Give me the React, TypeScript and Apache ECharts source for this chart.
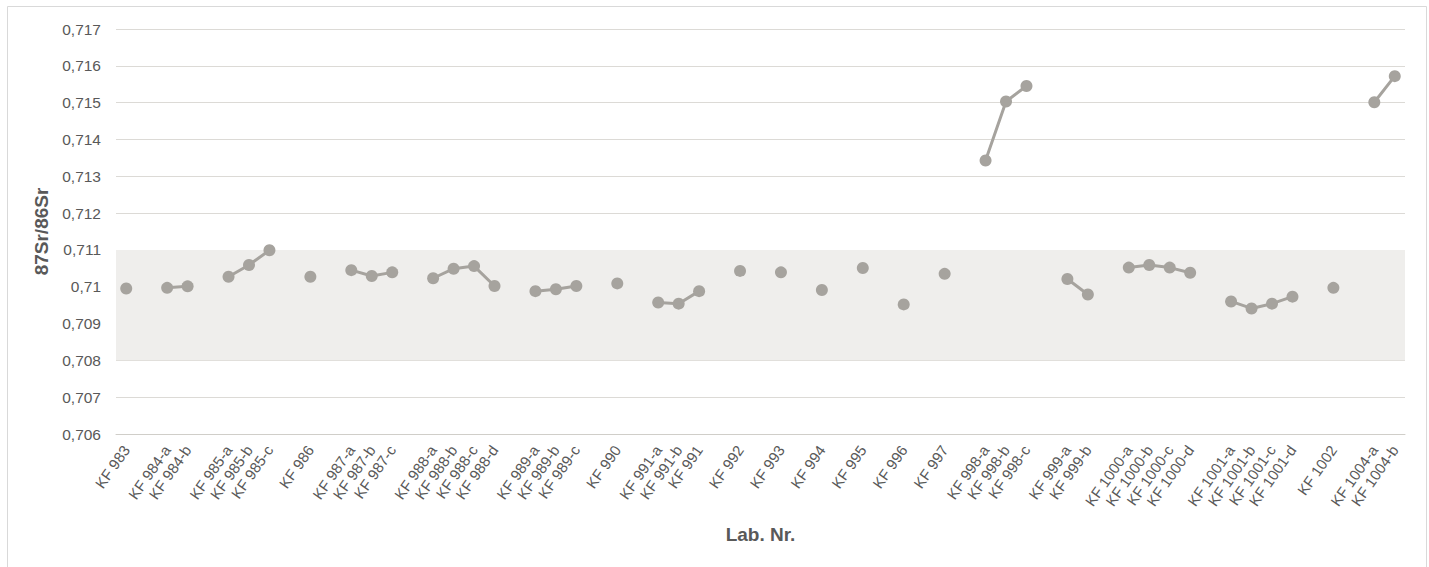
import React, { useEffect, useRef } from "react";
import * as echarts from "echarts";

// Categories ("" = empty spacer category between sample groups)
const categories: string[] = [
  "KF 983", "",
  "KF 984-a", "KF 984-b", "",
  "KF 985-a", "KF 985-b", "KF 985-c", "",
  "KF 986", "",
  "KF 987-a", "KF 987-b", "KF 987-c", "",
  "KF 988-a", "KF 988-b", "KF 988-c", "KF 988-d", "",
  "KF 989-a", "KF 989-b", "KF 989-c", "",
  "KF 990", "",
  "KF 991-a", "KF 991-b", "KF 991", "",
  "KF 992", "",
  "KF 993", "",
  "KF 994", "",
  "KF 995", "",
  "KF 996", "",
  "KF 997", "",
  "KF 998-a", "KF 998-b", "KF 998-c", "",
  "KF 999-a", "KF 999-b", "",
  "KF 1000-a", "KF 1000-b", "KF 1000-c", "KF 1000-d", "",
  "KF 1001-a", "KF 1001-b", "KF 1001-c", "KF 1001-d", "",
  "KF 1002", "",
  "KF 1004-a", "KF 1004-b",
];

// 87Sr/86Sr values (null = spacer)
const srValues: (number | null)[] = [
  0.70995, null,
  0.70997, 0.71001, null,
  0.71027, 0.71059, 0.71099, null,
  0.71027, null,
  0.71045, 0.71029, 0.71039, null,
  0.71023, 0.71049, 0.71056, 0.71002, null,
  0.70988, 0.70993, 0.71002, null,
  0.71009, null,
  0.70957, 0.70954, 0.70988, null,
  0.71043, null,
  0.71039, null,
  0.70991, null,
  0.71051, null,
  0.70952, null,
  0.71035, null,
  0.71343, 0.71503, 0.71545, null,
  0.71021, 0.70979, null,
  0.71052, 0.71059, 0.71052, 0.71038, null,
  0.7096, 0.70941, 0.70954, 0.70973, null,
  0.70997, null,
  0.71501, 0.71572,
];

// Reference band (shaded)
const bandRange: [number, number] = [0.708, 0.711];

const yMin = 0.706;
const yMax = 0.717;
const yInterval = 0.001;

const FONT = "'Liberation Sans', Arial, sans-serif";
const TEXT = "#595959";
const GREY = "#a6a39e";

export default function App() {
  const ref = useRef<HTMLDivElement>(null);

  useEffect(() => {
    if (!ref.current) return;
    const chart = echarts.init(ref.current, undefined, { renderer: "svg" });
    chart.setOption({
      animation: false,
      backgroundColor: "#ffffff",
      textStyle: { fontFamily: FONT },
      grid: { left: 116, right: 24, top: 29, bottom: 133 },
      graphic: [
        {
          type: "rect",
          shape: { x: 7.5, y: 6.5, width: 1419, height: 600 },
          style: { fill: "none", stroke: "#d9d9d9", lineWidth: 1 },
          silent: true,
          z: -10,
        },
      ],
      xAxis: {
        type: "category",
        data: categories,
        boundaryGap: true,
        axisLine: { show: true, lineStyle: { color: "#d0cec9", width: 1 } },
        axisTick: { show: false },
        axisLabel: {
          interval: 0,
          rotate: 55,
          margin: 13,
          color: TEXT,
          fontSize: 15,
          fontFamily: FONT,
        },
        name: "Lab. Nr.",
        nameLocation: "middle",
        nameGap: 91,
        nameTextStyle: {
          color: TEXT,
          fontSize: 19,
          fontWeight: "bold",
          fontFamily: FONT,
        },
      },
      yAxis: {
        type: "value",
        min: yMin,
        max: yMax,
        interval: yInterval,
        axisLine: { show: false },
        axisTick: { show: false },
        splitLine: { show: true, lineStyle: { color: "#dcdad6", width: 1 } },
        axisLabel: {
          color: TEXT,
          fontSize: 15.5,
          margin: 15,
          fontFamily: FONT,
          formatter: (v: number) => String(Number(v.toFixed(3))).replace(".", ","),
        },
        name: "87Sr/86Sr",
        nameLocation: "middle",
        nameGap: 63,
        nameTextStyle: {
          color: TEXT,
          fontSize: 19,
          fontWeight: "bold",
          fontFamily: FONT,
        },
      },
      series: [
        {
          type: "line",
          data: srValues,
          connectNulls: false,
          symbol: "circle",
          symbolSize: 12,
          showSymbol: true,
          itemStyle: { color: GREY },
          lineStyle: { color: GREY, width: 3 },
          z: 5,
          markArea: {
            silent: true,
            itemStyle: { color: "#efeeec" },
            data: [[{ yAxis: bandRange[0] }, { yAxis: bandRange[1] }]],
            z: 1,
          },
        },
      ],
    });
    return () => chart.dispose();
  }, []);

  return (
    <div
      ref={ref}
      style={{ position: "absolute", left: 0, top: 0, width: 1429, height: 567 }}
    />
  );
}
